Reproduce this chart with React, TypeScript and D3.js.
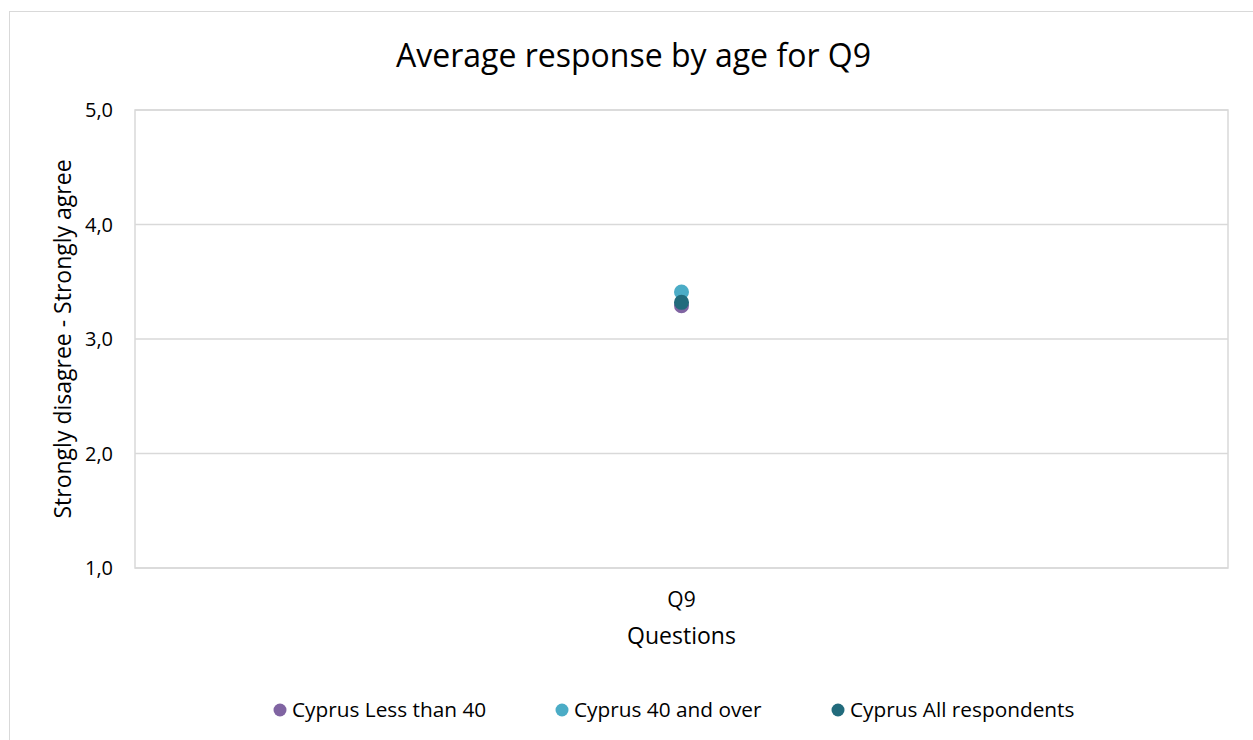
import React from "react";
import * as d3 from "d3";

// Chart data
const categories = ["Q9"];
const seriesNames = ["Cyprus Less than 40", "Cyprus 40 and over", "Cyprus All respondents"];
const seriesColors = ["#8064A2", "#4BACC6", "#226B7C"];
const lessThan40 = [3.29];
const fortyAndOver = [3.41];
const allRespondents = [3.32];
const yTicks = [1, 2, 3, 4, 5];

const W = 1253;
const H = 740;
const plot = { left: 135, right: 1228, top: 110, bottom: 568 };
const FONT = "'Open Sans', sans-serif";

export default function App() {
  const x = d3.scaleBand<string>().domain(categories).range([plot.left, plot.right]);
  const y = d3.scaleLinear().domain([1, 5]).range([plot.bottom, plot.top]);
  const fmt = (v: number) => d3.format(".1f")(v).replace(".", ",");
  const series = [lessThan40, fortyAndOver, allRespondents];
  const legendX = [280, 562, 838];

  return (
    <svg
      width={W}
      height={H}
      style={{ position: "absolute", left: 0, top: 0, background: "#fff" }}
      fontFamily={FONT}
    >
      <rect x={9.5} y={11.5} width={1260} height={760} fill="#fff" stroke="#d9d9d9" strokeWidth={1} />
      <text x={633.5} y={67} textAnchor="middle" fontSize={32} fill="#000">
        Average response by age for Q9
      </text>

      {/* plot frame and gridlines */}
      <rect
        x={plot.left}
        y={plot.top}
        width={plot.right - plot.left}
        height={plot.bottom - plot.top}
        fill="none"
        stroke="#d9d9d9"
        strokeWidth={1.5}
      />
      {yTicks.map((t) => (
        <g key={t}>
          <line x1={plot.left} x2={plot.right} y1={y(t)} y2={y(t)} stroke="#d9d9d9" strokeWidth={1.5} />
          <text x={113} y={y(t) + 7} textAnchor="end" fontSize={20} fill="#000">
            {fmt(t)}
          </text>
        </g>
      ))}

      <text
        transform={`translate(71,${(plot.top + plot.bottom) / 2}) rotate(-90)`}
        textAnchor="middle"
        fontSize={23}
        fill="#000"
      >
        Strongly disagree - Strongly agree
      </text>

      {categories.map((c) => (
        <text key={c} x={x(c)! + x.bandwidth() / 2} y={607} textAnchor="middle" fontSize={21} fill="#000">
          {c}
        </text>
      ))}
      <text x={(plot.left + plot.right) / 2} y={644} textAnchor="middle" fontSize={23} fill="#000">
        Questions
      </text>

      {series.map((vals, si) =>
        vals.map((v, i) => (
          <circle
            key={`${si}-${i}`}
            cx={x(categories[i])! + x.bandwidth() / 2}
            cy={y(v)}
            r={7.5}
            fill={seriesColors[si]}
          />
        ))
      )}

      {seriesNames.map((n, i) => (
        <g key={n}>
          <circle cx={legendX[i]} cy={710} r={6.5} fill={seriesColors[i]} />
          <text x={legendX[i] + 12} y={717} fontSize={20.8} fill="#000">
            {n}
          </text>
        </g>
      ))}
    </svg>
  );
}
